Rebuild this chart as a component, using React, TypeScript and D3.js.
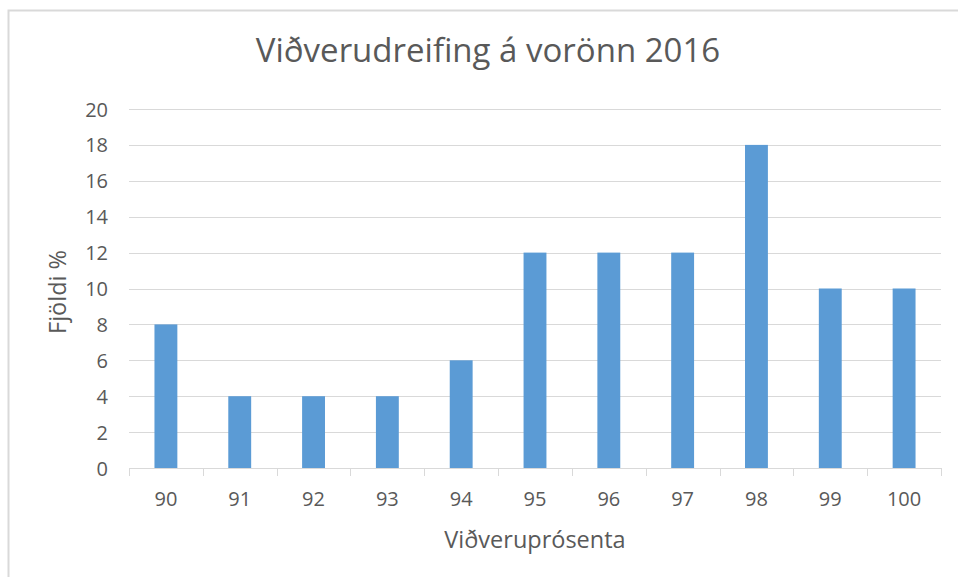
import { useRef, useEffect } from "react";
import * as d3 from "d3";

const categories = ["90", "91", "92", "93", "94", "95", "96", "97", "98", "99", "100"];
const values = [8, 4, 4, 4, 6, 12, 12, 12, 18, 10, 10];
const yTicks = [0, 2, 4, 6, 8, 10, 12, 14, 16, 18, 20];

const App = () => {
  const ref = useRef<SVGSVGElement>(null);

  useEffect(() => {
    const svg = d3.select(ref.current);
    svg.selectAll("*").remove();

    const width = 958;
    const height = 577;
    const plot = { left: 129, right: 941, top: 109, bottom: 468 };
    const font = "'Open Sans', sans-serif";
    const textColor = "#595959";

    svg.append("rect").attr("width", width).attr("height", height).attr("fill", "#fff");

    // chart frame
    svg
      .append("path")
      .attr("d", `M8.5,${height} V10.5 H${width}`)
      .attr("fill", "none")
      .attr("stroke", "#d9d9d9")
      .attr("stroke-width", 2);

    const x = d3.scaleBand<string>().domain(categories).range([plot.left, plot.right]).paddingInner(0.69).paddingOuter(0.345);
    const xb = d3.scaleBand<string>().domain(categories).range([plot.left, plot.right]);
    const y = d3.scaleLinear().domain([0, 20]).range([plot.bottom, plot.top]);

    // gridlines
    svg
      .append("g")
      .selectAll("line")
      .data(yTicks.filter(t => t > 0))
      .enter()
      .append("line")
      .attr("x1", plot.left)
      .attr("x2", plot.right)
      .attr("y1", d => Math.round(y(d)) + 0.5)
      .attr("y2", d => Math.round(y(d)) + 0.5)
      .attr("stroke", "#d9d9d9")
      .attr("stroke-width", 1);

    // bars
    svg
      .append("g")
      .selectAll("rect")
      .data(values)
      .enter()
      .append("rect")
      .attr("x", (_d, i) => x(categories[i]) as number)
      .attr("y", d => y(d))
      .attr("width", x.bandwidth())
      .attr("height", d => plot.bottom - y(d))
      .attr("fill", "#5b9bd5");

    // x axis line and ticks
    const axis = svg.append("g").attr("stroke", "#d9d9d9").attr("stroke-width", 1);
    axis
      .append("line")
      .attr("x1", plot.left)
      .attr("x2", plot.right)
      .attr("y1", plot.bottom + 0.5)
      .attr("y2", plot.bottom + 0.5);
    const edges = categories.map(c => xb(c) as number).concat([plot.right]);
    axis
      .selectAll("line.tick")
      .data(edges)
      .enter()
      .append("line")
      .attr("class", "tick")
      .attr("x1", d => Math.round(d) + 0.5)
      .attr("x2", d => Math.round(d) + 0.5)
      .attr("y1", plot.bottom)
      .attr("y2", plot.bottom + 8);

    // x labels
    svg
      .append("g")
      .selectAll("text")
      .data(categories)
      .enter()
      .append("text")
      .attr("x", d => (xb(d) as number) + xb.bandwidth() / 2)
      .attr("y", 506)
      .attr("text-anchor", "middle")
      .attr("font-family", font)
      .attr("font-size", 20)
      .attr("fill", textColor)
      .text(d => d);

    // y labels
    svg
      .append("g")
      .selectAll("text")
      .data(yTicks)
      .enter()
      .append("text")
      .attr("x", 108)
      .attr("y", d => y(d) + 7.5)
      .attr("text-anchor", "end")
      .attr("font-family", font)
      .attr("font-size", 20)
      .attr("fill", textColor)
      .text(d => d);

    // title
    svg
      .append("text")
      .attr("x", 488)
      .attr("y", 62)
      .attr("text-anchor", "middle")
      .attr("font-family", font)
      .attr("font-size", 33)
      .attr("fill", textColor)
      .text("Viðverudreifing á vorönn 2016");

    // axis titles
    svg
      .append("text")
      .attr("x", 535)
      .attr("y", 548)
      .attr("text-anchor", "middle")
      .attr("font-family", font)
      .attr("font-size", 23.5)
      .attr("fill", textColor)
      .text("Viðveruprósenta");

    svg
      .append("text")
      .attr("transform", `translate(66, 292) rotate(-90)`)
      .attr("text-anchor", "middle")
      .attr("font-family", font)
      .attr("font-size", 23.5)
      .attr("fill", textColor)
      .text("Fjöldi %");
  }, []);

  return (
    <svg
      ref={ref}
      width={958}
      height={577}
      style={{ position: "absolute", left: 0, top: 0, display: "block" }}
    />
  );
};

export default App;
